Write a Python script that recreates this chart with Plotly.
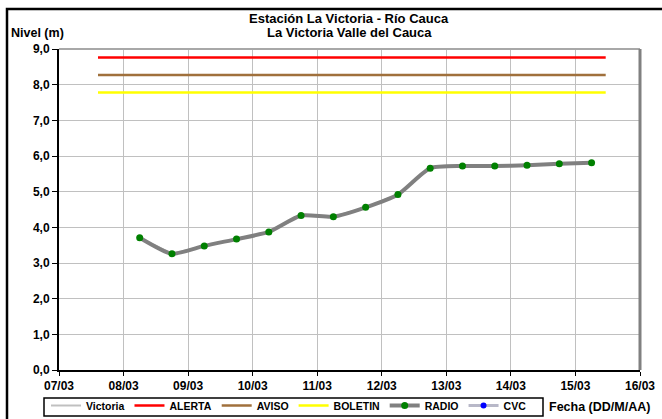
import plotly.graph_objects as go

# ---- data ----
times = ["2021-03-08 06:00", "2021-03-08 18:00", "2021-03-09 06:00", "2021-03-09 18:00",
         "2021-03-10 06:00", "2021-03-10 18:00", "2021-03-11 06:00", "2021-03-11 18:00",
         "2021-03-12 06:00", "2021-03-12 18:00", "2021-03-13 06:00", "2021-03-13 18:00",
         "2021-03-14 06:00", "2021-03-14 18:00", "2021-03-15 06:00"]
radio = [3.71, 3.26, 3.48, 3.67, 3.87, 4.33, 4.30, 4.56, 4.92, 5.66, 5.72, 5.72, 5.74, 5.78, 5.81]
victoria = radio
threshold_span = ["2021-03-07 14:30", "2021-03-15 11:15"]
alerta = 8.76
aviso = 8.27
boletin = 7.78
x_range = ["2021-03-07", "2021-03-16"]
title_lines = ["Estación La Victoria - Río Cauca", "La Victoria Valle del Cauca"]

FONT = "Liberation Sans, Arial, sans-serif"

# pixel geometry helpers
L, R, T, B = 59, 640, 49, 370
W, H = 662, 419
def px(x):
    return (x - L) / (R - L)
def py(y):
    return (B - y) / (B - T)

fig = go.Figure()
fig.add_trace(go.Scatter(x=times, y=victoria, name="Victoria", mode="lines",
                         line=dict(color="#C0C0C0", width=2)))
fig.add_trace(go.Scatter(x=threshold_span, y=[alerta, alerta], name="ALERTA", mode="lines",
                         line=dict(color="#FF0000", width=2.5)))
fig.add_trace(go.Scatter(x=threshold_span, y=[aviso, aviso], name="AVISO", mode="lines",
                         line=dict(color="#A0703C", width=2.5)))
fig.add_trace(go.Scatter(x=threshold_span, y=[boletin, boletin], name="BOLETIN", mode="lines",
                         line=dict(color="#FFFF00", width=2.5)))
fig.add_trace(go.Scatter(x=times, y=radio, name="RADIO", mode="lines+markers",
                         line=dict(color="#808080", width=4, shape="spline", smoothing=0.6),
                         marker=dict(color="#008000", size=7)))
fig.add_trace(go.Scatter(x=[None], y=[None], name="CVC", mode="lines+markers",
                         line=dict(color="#B8B8C8", width=3),
                         marker=dict(color="#0000FF", size=6)))

fig.update_layout(
    width=W, height=H,
    margin=dict(l=L, r=W - R, t=T, b=H - B, autoexpand=False),
    paper_bgcolor="white", plot_bgcolor="white",
    separators=",.",
    font=dict(family=FONT, size=10, color="black"),
    showlegend=True,
    legend=dict(orientation="h", x=px(46), xanchor="left", y=py(391), yanchor="top",
                borderwidth=0, bgcolor="rgba(0,0,0,0)",
                font=dict(family=FONT, size=10.5, color="black", weight="bold"),
                itemwidth=30, tracegroupgap=0),
    xaxis=dict(type="date", range=x_range, dtick=86400000, tickformat="%d/%m",
               showgrid=True, gridcolor="#C0C0C0", gridwidth=1,
               showline=True, linecolor="black", linewidth=2,
               ticks="outside", ticklen=4, tickcolor="black", tickwidth=1,
               tickfont=dict(family=FONT, size=12, color="black", weight="bold"),
               zeroline=False),
    yaxis=dict(range=[0, 9], dtick=1, tickformat=".1f",
               showgrid=True, gridcolor="#C0C0C0", gridwidth=1,
               showline=True, linecolor="black", linewidth=2,
               ticks="outside", ticklen=5, tickcolor="black", tickwidth=1,
               tickfont=dict(family=FONT, size=12, color="black", weight="bold"),
               zeroline=False),
)

# plot-area top/right borders
fig.add_shape(type="line", xref="paper", yref="paper", x0=0, x1=1, y0=1, y1=1,
              line=dict(color="#A8A8A8", width=2))
fig.add_shape(type="line", xref="paper", yref="paper", x0=1, x1=1, y0=0, y1=1,
              line=dict(color="#808080", width=3))
# outer chart border
fig.add_shape(type="rect", xref="paper", yref="paper",
              x0=px(7), x1=px(668), y0=py(440), y1=py(9),
              line=dict(color="black", width=2.5))
# legend box
fig.add_shape(type="rect", xref="paper", yref="paper",
              x0=px(44), x1=px(543), y0=py(416), y1=py(398),
              line=dict(color="black", width=1.5))

for line_text, ypix in zip(title_lines, [19, 32]):
    fig.add_annotation(text=line_text, xref="paper", yref="paper",
                       x=px(349), y=py(ypix), xanchor="center", yanchor="middle",
                       showarrow=False, align="center",
                       font=dict(family=FONT, size=13, color="black", weight="bold"))
fig.add_annotation(text="Nivel (m)", xref="paper", yref="paper",
                   x=px(9), y=py(33), xanchor="left", yanchor="middle", showarrow=False,
                   font=dict(family=FONT, size=12.5, color="black", weight="bold"))
fig.add_annotation(text="Fecha (DD/M/AA)", xref="paper", yref="paper",
                   x=px(547), y=py(407), xanchor="left", yanchor="middle", showarrow=False,
                   font=dict(family=FONT, size=12.5, color="black", weight="bold"))

fig.write_html("out.html", config={"displayModeBar": False},
               post_script="document.body.style.margin='0px';document.body.style.overflow='hidden';")
